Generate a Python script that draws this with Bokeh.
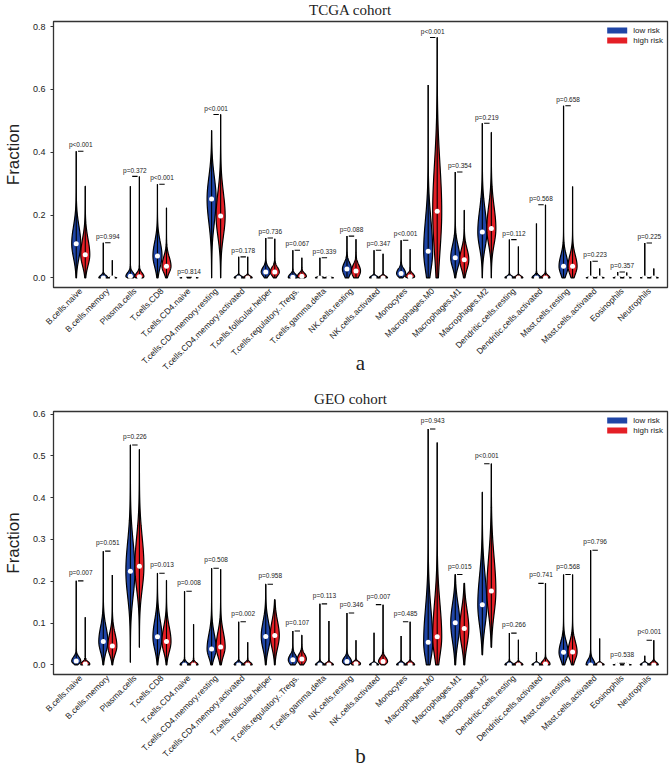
import numpy as np
from bokeh.plotting import figure
from bokeh.models import (Range1d, FixedTicker, PrintfTickFormatter, Legend, LegendItem,
                          LinearAxis)
from bokeh.layouts import column
from bokeh.embed import file_html
from bokeh.resources import INLINE
from bokeh.core.properties import value

cells = ["B.cells.naive", "B.cells.memory", "Plasma.cells", "T.cells.CD8", "T.cells.CD4.naive",
         "T.cells.CD4.memory.resting", "T.cells.CD4.memory.activated", "T.cells.follicular.helper",
         "T.cells.regulatory..Tregs.", "T.cells.gamma.delta", "NK.cells.resting", "NK.cells.activated",
         "Monocytes", "Macrophages.M0", "Macrophages.M1", "Macrophages.M2", "Dendritic.cells.resting",
         "Dendritic.cells.activated", "Mast.cells.resting", "Mast.cells.activated", "Eosinophils",
         "Neutrophils"]
groups = ["low risk", "high risk"]

# ---------------- TCGA cohort ----------------
tcga_low_max = [0.403, 0.112, 0.292, 0.298, 0.002, 0.469, 0.067, 0.127, 0.088, 0.064, 0.133, 0.088,
                0.120, 0.614, 0.337, 0.492, 0.122, 0.173, 0.548, 0.053, 0.019, 0.111]
tcga_high_max = [0.292, 0.056, 0.323, 0.223, 0.002, 0.520, 0.067, 0.125, 0.064, 0.005, 0.123, 0.077,
                 0.091, 0.765, 0.215, 0.463, 0.100, 0.233, 0.291, 0.030, 0.017, 0.030]
tcga_low_min = [0.0] * 22
tcga_high_min = [0.0] * 22
tcga_low_median = [0.109, 0.0, 0.005, 0.070, 0.0, 0.251, 0.0, 0.019, 0.002, 0.0, 0.028, 0.0,
                   0.014, 0.085, 0.064, 0.146, 0.0, 0.0, 0.037, 0.0, 0.0, 0.0]
tcga_high_median = [0.074, 0.0, 0.004, 0.037, 0.0, 0.197, 0.0, 0.019, 0.005, 0.0, 0.022, 0.0,
                    0.004, 0.212, 0.058, 0.157, 0.0, 0.0, 0.037, 0.0, 0.0, 0.0]
# spread of the density below / above the median
tcga_low_spread_lo = [0.045, 0.01, 0.005, 0.035, 0.001, 0.075, 0.01, 0.012, 0.01, 0.01, 0.02, 0.01,
                      0.01, 0.06, 0.03, 0.05, 0.01, 0.01, 0.025, 0.01, 0.002, 0.01]
tcga_low_spread_hi = [0.055, 0.008, 0.012, 0.045, 0.001, 0.07, 0.006, 0.015, 0.01, 0.003, 0.02, 0.006,
                      0.015, 0.10, 0.04, 0.07, 0.006, 0.008, 0.035, 0.002, 0.002, 0.002]
tcga_high_spread_lo = [0.035, 0.01, 0.005, 0.02, 0.001, 0.065, 0.01, 0.012, 0.005, 0.01, 0.018, 0.01,
                       0.004, 0.13, 0.03, 0.05, 0.01, 0.01, 0.025, 0.01, 0.002, 0.01]
tcga_high_spread_hi = [0.05, 0.002, 0.012, 0.03, 0.001, 0.075, 0.006, 0.015, 0.01, 0.002, 0.02, 0.006,
                       0.01, 0.15, 0.035, 0.07, 0.006, 0.008, 0.035, 0.002, 0.002, 0.002]
tcga_p = ["p<0.001", "p=0.994", "p=0.372", "p<0.001", "p=0.814", "p<0.001", "p=0.178", "p=0.736",
          "p=0.067", "p=0.339", "p=0.088", "p=0.347", "p<0.001", "p<0.001", "p=0.354", "p=0.219",
          "p=0.112", "p=0.568", "p=0.658", "p=0.223", "p=0.357", "p=0.225"]
tcga_yticks = [0.0, 0.2, 0.4, 0.6, 0.8]

# ---------------- GEO cohort ----------------
geo_low_max = [0.201, 0.272, 0.526, 0.219, 0.176, 0.231, 0.103, 0.193, 0.081, 0.146, 0.124, 0.077,
               0.069, 0.564, 0.216, 0.413, 0.076, 0.030, 0.216, 0.274, 0.004, 0.022]
geo_high_max = [0.114, 0.215, 0.515, 0.202, 0.097, 0.229, 0.054, 0.156, 0.071, 0.105, 0.059, 0.144,
                0.103, 0.532, 0.195, 0.481, 0.060, 0.195, 0.216, 0.063, 0.004, 0.059]
geo_low_min = [0.0, 0.0, 0.006, 0.0, 0.0, 0.0, 0.0, 0.0, 0.0, 0.0, 0.0, 0.0,
               0.0, 0.0, 0.0, 0.024, 0.0, 0.0, 0.0, 0.0, 0.0, 0.0]
geo_high_min = [0.0, 0.0, 0.042, 0.0, 0.0, 0.0, 0.0, 0.0, 0.0, 0.0, 0.0, 0.0,
                0.0, 0.0, 0.0, 0.042, 0.0, 0.0, 0.0, 0.0, 0.0, 0.0]
geo_low_median = [0.009, 0.056, 0.224, 0.067, 0.0, 0.038, 0.0, 0.068, 0.012, 0.0, 0.008, 0.0,
                  0.0, 0.054, 0.101, 0.144, 0.0, 0.0, 0.030, 0.0, 0.0, 0.0]
geo_high_median = [0.002, 0.045, 0.236, 0.056, 0.0, 0.043, 0.0, 0.070, 0.014, 0.0, 0.003, 0.008,
                   0.0, 0.067, 0.087, 0.177, 0.0, 0.002, 0.031, 0.0, 0.0, 0.0]
geo_low_spread_lo = [0.006, 0.025, 0.06, 0.03, 0.005, 0.02, 0.005, 0.03, 0.01, 0.005, 0.006, 0.004,
                     0.005, 0.04, 0.045, 0.05, 0.005, 0.004, 0.018, 0.01, 0.001, 0.004]
geo_low_spread_hi = [0.01, 0.035, 0.07, 0.04, 0.006, 0.035, 0.006, 0.035, 0.012, 0.005, 0.01, 0.004,
                     0.005, 0.08, 0.045, 0.07, 0.005, 0.004, 0.025, 0.012, 0.001, 0.004]
geo_high_spread_lo = [0.006, 0.02, 0.055, 0.025, 0.005, 0.022, 0.005, 0.03, 0.01, 0.005, 0.005, 0.006,
                      0.006, 0.045, 0.04, 0.055, 0.005, 0.006, 0.018, 0.004, 0.001, 0.006]
geo_high_spread_hi = [0.006, 0.03, 0.07, 0.035, 0.006, 0.035, 0.006, 0.035, 0.012, 0.005, 0.005, 0.01,
                      0.006, 0.08, 0.045, 0.08, 0.005, 0.008, 0.025, 0.004, 0.001, 0.006]
geo_p = ["p=0.007", "p=0.051", "p=0.226", "p=0.013", "p=0.008", "p=0.508", "p=0.002", "p=0.958",
         "p=0.107", "p=0.113", "p=0.346", "p=0.007", "p=0.485", "p=0.943", "p=0.015", "p<0.001",
         "p=0.266", "p=0.741", "p=0.568", "p=0.796", "p=0.538", "p<0.001"]
geo_yticks = [0.0, 0.1, 0.2, 0.3, 0.4, 0.5, 0.6]

BLUE = "#1f45a6"
RED = "#e41f26"
SANS = "Liberation Sans"
SERIF = "Liberation Serif"
W = 669
LEFT = 49
RIGHT = 2
X0, X1 = -2.52, 65.52
PPU = (W - LEFT - RIGHT) / (X1 - X0)
N = len(cells)
low_x = [3 * i for i in range(N)]
high_x = [3 * i + 1 for i in range(N)]
mid_x = [3 * i + 0.5 for i in range(N)]


def violin_outline(center, lo, hi, med, s_lo, s_hi):
    ys = np.linspace(lo, hi, 160)
    s = np.where(ys < med, s_lo, s_hi)
    f = np.exp(-0.5 * ((ys - med) / s) ** 2)
    f = f / f.max()
    hw = 0.5 * f
    xs = np.concatenate([center - hw, (center + hw)[::-1]])
    yy = np.concatenate([ys, ys[::-1]])
    return list(xs), list(yy)


def header(title, height, cy):
    # frames of plots in a column are aligned, so use the same x mapping as the panels
    h = figure(width=W, height=height, output_backend="svg", toolbar_location=None,
               x_range=Range1d(X0, X1), y_range=Range1d(0, height), x_axis_location=None,
               y_axis_location=None, min_border_left=LEFT, min_border_right=RIGHT,
               min_border_top=0, min_border_bottom=0)
    h.grid.visible = False
    h.outline_line_color = None
    h.text(x=[X0 + (348 - LEFT) / PPU], y=[height - cy], text=[title], text_align="center",
           text_baseline="middle", text_font=value(SERIF), text_font_size="15px",
           text_color="#222222")
    return h


def main(lmax, hmax, lmin, hmin, lmed, hmed, lslo, lshi, hslo, hshi, pvals, yticks, yr,
         frame_h, top_b, bottom_b, letter, letter_standoff):
    p = figure(width=W, height=frame_h + top_b + bottom_b, output_backend="svg",
               toolbar_location=None, x_range=Range1d(X0, X1), y_range=Range1d(*yr),
               x_axis_location=None, min_border_left=LEFT, min_border_right=RIGHT,
               min_border_top=top_b, min_border_bottom=bottom_b)
    p.grid.visible = False
    p.outline_line_color = "#333333"
    p.outline_line_width = 1.3

    ax = p.yaxis[0]
    ax.ticker = FixedTicker(ticks=yticks)
    ax.formatter = PrintfTickFormatter(format="%.1f")
    ax.major_tick_out = 3
    ax.major_tick_in = 0
    ax.minor_tick_line_color = None
    ax.axis_line_color = "#333333"
    ax.major_tick_line_color = "#333333"
    ax.major_label_text_font = SANS
    ax.major_label_text_font_size = "9px"
    ax.major_label_text_color = "#222222"
    ax.major_label_standoff = 5
    ax.axis_label = "Fraction"
    ax.axis_label_text_font = SANS
    ax.axis_label_text_font_style = "normal"
    ax.axis_label_text_font_size = "17px"
    ax.axis_label_text_color = "#222222"
    ax.axis_label_standoff = 7

    # category axis (labels only)
    xa = LinearAxis(ticker=FixedTicker(ticks=mid_x),
                    major_label_overrides={m: c for m, c in zip(mid_x, cells)},
                    major_label_orientation=np.pi / 4, major_tick_line_color=None,
                    major_tick_out=0, major_tick_in=0, minor_tick_line_color=None,
                    axis_line_color=None, major_label_standoff=2,
                    major_label_text_font=SANS, major_label_text_font_size="8.5px",
                    major_label_text_color="#222222",
                    axis_label=letter, axis_label_text_font=SERIF,
                    axis_label_text_font_style="normal", axis_label_text_font_size="21px",
                    axis_label_text_color="#222222", axis_label_standoff=letter_standoff)
    p.add_layout(xa, "below")

    for xs_, mn, mx, md, slo, shi, col in [(low_x, lmin, lmax, lmed, lslo, lshi, BLUE),
                                          (high_x, hmin, hmax, hmed, hslo, hshi, RED)]:
        vx, vy = [], []
        for i in range(N):
            a, b = violin_outline(xs_[i], mn[i], mx[i], md[i], slo[i], shi[i])
            vx.append(a)
            vy.append(b)
        p.patches(vx, vy, fill_color=col, line_color="black", line_width=1.2)
        p.segment(x0=xs_, y0=mn, x1=xs_, y1=mx, line_color="black", line_width=1.1)
        p.scatter(x=xs_, y=md, size=5, fill_color="white", line_color=None)

    top = [max(a, b) for a, b in zip(lmax, hmax)]
    p.segment(x0=[x + 0.2 for x in low_x], y0=top, x1=[x + 0.8 for x in low_x], y1=top,
              line_color="black", line_width=1.1)
    p.text(x=mid_x, y=[t + 0.02 for t in top], text=pvals, text_align="center",
           text_baseline="middle", text_font=value(SANS), text_font_size="6.5px",
           text_color="#222222")

    # legend (renderers placed outside the visible range)
    r1 = p.line(x=[-20, -19], y=[-5, -5], line_color=BLUE, line_width=6, line_cap="round")
    r2 = p.line(x=[-20, -19], y=[-5, -5], line_color=RED, line_width=6, line_cap="round")
    leg = Legend(items=[LegendItem(label=groups[0], renderers=[r1]),
                        LegendItem(label=groups[1], renderers=[r2])],
                 location="top_right", margin=2, padding=2, spacing=0, glyph_width=20,
                 glyph_height=10, label_height=10, label_standoff=6,
                 label_text_font=SANS, label_text_font_size="8px", label_text_color="#222222",
                 border_line_alpha=0, background_fill_alpha=0)
    p.add_layout(leg)
    return p


ha = header("TCGA cohort", 20, 9)
pa = main(tcga_low_max, tcga_high_max, tcga_low_min, tcga_high_min,
          tcga_low_median, tcga_high_median, tcga_low_spread_lo, tcga_low_spread_hi,
          tcga_high_spread_lo, tcga_high_spread_hi, tcga_p, tcga_yticks, (-0.0305, 0.816),
          266, 1, 100, "a", -28)

hb = header("GEO cohort", 20, 11)
pb = main(geo_low_max, geo_high_max, geo_low_min, geo_high_min,
          geo_low_median, geo_high_median, geo_low_spread_lo, geo_low_spread_hi,
          geo_high_spread_lo, geo_high_spread_hi, geo_p, geo_yticks, (-0.023, 0.606),
          267, 4, 92, "b", -22)

layout = column(ha, pa, hb, pb, spacing=0)
open("out.html", "w").write(file_html(layout, INLINE))
